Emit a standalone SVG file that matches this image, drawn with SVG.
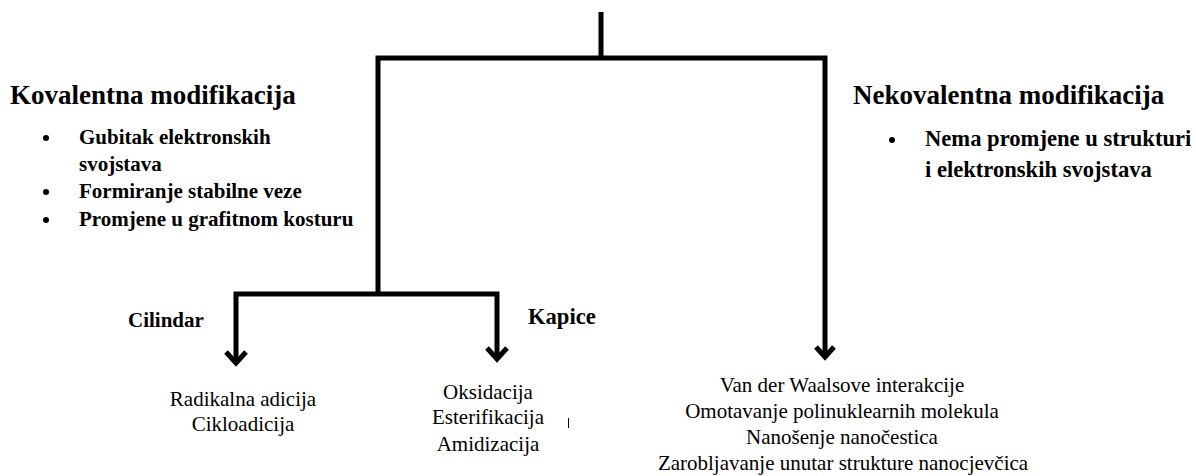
<svg xmlns="http://www.w3.org/2000/svg" width="1196" height="476" viewBox="0 0 1196 476">
<defs>
<style>
.ln{fill:none;stroke:#000;stroke-width:5;stroke-linejoin:miter}
.ah{fill:none;stroke:#000;stroke-width:5;stroke-linejoin:miter;stroke-linecap:butt}
.h{font-family:"Liberation Serif","Times New Roman",serif;font-weight:bold;font-size:27px;fill:#000}
.b{font-family:"Liberation Serif","Times New Roman",serif;font-weight:bold;font-size:21px;fill:#000}
.b2{font-family:"Liberation Serif","Times New Roman",serif;font-weight:bold;font-size:22.6px;fill:#000}
.t{font-family:"Liberation Serif","Times New Roman",serif;font-size:21px;fill:#000;text-anchor:middle}
</style>
</defs>
<rect width="1196" height="476" fill="#fff"/>
<g id="connectors">
<path class="ln" d="M601,12 V58"/>
<path class="ln" d="M378,294 V58 H825 V358"/>
<path class="ln" d="M236,363 V294 H497 V359"/>
<path class="ah" d="M816,347 L825,357 L834,347"/>
<path class="ah" d="M226,352 L236,363 L246,352"/>
<path class="ah" d="M487,348 L497,359 L507,348"/>
<line x1="568.5" y1="418" x2="568.5" y2="428" stroke="#000" stroke-width="1"/>
</g>
<g id="kovalentna">
<text class="h" x="10" y="104">Kovalentna modifikacija</text>
<circle cx="46" cy="138" r="3"/>
<text class="b" x="79" y="144">Gubitak elektronskih</text>
<text class="b" x="79" y="171">svojstava</text>
<circle cx="46" cy="192" r="3"/>
<text class="b" x="79" y="198">Formiranje stabilne veze</text>
<circle cx="46" cy="220" r="3"/>
<text class="b" x="79" y="226">Promjene u grafitnom kosturu</text>
</g>
<g id="nekovalentna">
<text class="h" x="853" y="104">Nekovalentna modifikacija</text>
<circle cx="892" cy="140" r="3"/>
<text class="b2" x="925" y="146">Nema promjene u strukturi</text>
<text class="b2" x="925" y="177">i elektronskih svojstava</text>
</g>
<g id="cilindar">
<text class="b" x="128" y="327">Cilindar</text>
</g>
<g id="kapice">
<text class="b2" x="528" y="324">Kapice</text>
</g>
<g id="cilindar-list">
<text class="t" x="243" y="406">Radikalna adicija</text>
<text class="t" x="243" y="431">Cikloadicija</text>
</g>
<g id="kapice-list">
<text class="t" x="488" y="399">Oksidacija</text>
<text class="t" x="488" y="424">Esterifikacija</text>
<text class="t" x="488" y="451">Amidizacija</text>
</g>
<g id="nekovalentna-list">
<text class="t" x="842" y="392">Van der Waalsove interakcije</text>
<text class="t" x="842" y="418">Omotavanje polinuklearnih molekula</text>
<text class="t" x="842" y="444">Nanošenje nanočestica</text>
<text class="t" x="843" y="470">Zarobljavanje unutar strukture nanocjevčica</text>
</g>
</svg>
